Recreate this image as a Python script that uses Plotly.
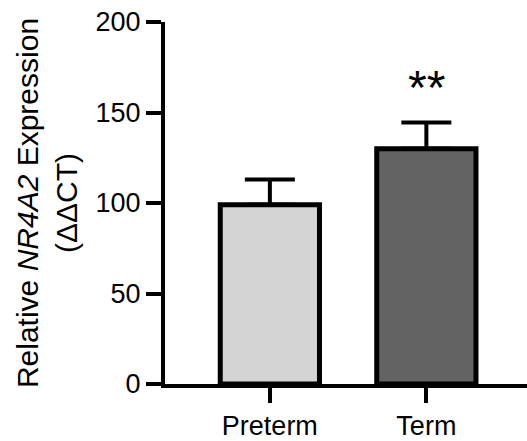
import plotly.graph_objects as go

categories = ["Preterm", "Term"]
means = [99, 130]
errors = [14, 14.5]
colors = ["#d4d4d4", "#636363"]
y_ticks = [0, 50, 100, 150, 200]
significance = "**"

fig = go.Figure()
fig.add_trace(go.Bar(
    x=categories, y=means, width=0.634,
    marker=dict(color=colors, line=dict(color="black", width=5)),
    error_y=dict(type="data", array=errors, arrayminus=[0, 0], symmetric=False,
                 color="black", thickness=4, width=25),
))
fig.add_annotation(x=categories[1], y=means[1] + errors[1], text=significance,
                   showarrow=False, yanchor="bottom", yshift=6,
                   font=dict(family="Liberation Sans, Arial", size=48, color="black"))

fig.update_layout(
    width=527, height=441,
    margin=dict(l=165, r=0, t=22, b=50),
    plot_bgcolor="white", paper_bgcolor="white",
    showlegend=False,
    font=dict(family="Liberation Sans, Arial", color="black"),
    xaxis=dict(range=[-0.67, 1.643], showline=True, linecolor="black", linewidth=4,
               ticks="outside", ticklen=15, tickwidth=4, tickcolor="black",
               tickfont=dict(size=27), showgrid=False, zeroline=False),
    yaxis=dict(range=[0, 200], tickvals=y_ticks, showline=True, linecolor="black",
               linewidth=4, ticks="outside", ticklen=15, tickwidth=4, tickcolor="black",
               tickfont=dict(size=27), showgrid=False, zeroline=False,
               title=dict(text="Relative <i>NR4A2</i> Expression<br>(ΔΔCT)",
                          font=dict(size=30), standoff=10)),
)
fig.write_html("out.html")
